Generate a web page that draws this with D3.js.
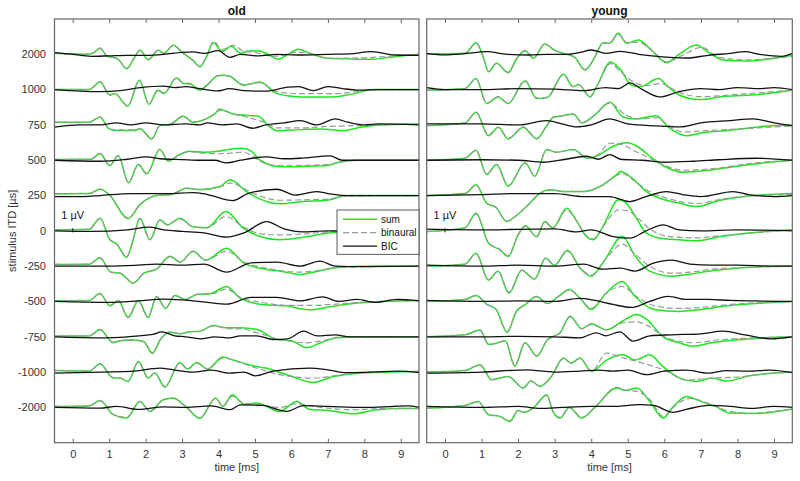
<!DOCTYPE html>
<html><head><meta charset="utf-8">
<script src="https://cdn.jsdelivr.net/npm/d3@7"></script>
<style>body{margin:0;background:#fff}svg{display:block}</style>
</head><body><svg id="c" width="800" height="481"></svg>
<script>
const itdLabels = ["2000","1000","750","500","250","0","-250","-500","-750","-1000","-2000"];
const timeTicks = [0,1,2,3,4,5,6,7,8,9];
const panelTitles = ["old","young"];
const legendLabels = ["sum","binaural","BIC"];

// values: [time ms, amplitude µV], one array per ITD row
const oldSum = [
[[-0.5,0.1],[0.4,0],[0.55,0.1],[0.75,0.6],[0.95,-0.2],[1.1,-0.3],[1.25,-0.5],[1.48,-1.45],[1.65,-0.6],[1.85,0.4],[2.07,-0.55],[2.35,0.4],[2.5,0.1],[2.76,0.9],[3.0,0.2],[3.3,-0.6],[3.49,-1.25],[3.65,-0.4],[3.86,1.15],[4.1,0.3],[4.35,0.8],[4.6,0.1],[4.8,0.3],[5.1,0.35],[5.35,0],[5.64,-0.5],[5.9,0],[6.19,0.5],[6.5,0.1],[7.0,-0.4],[7.5,-0.45],[8.2,-0.5],[8.7,-0.3],[9.2,-0.1],[9.5,0]],
[[-0.5,0],[0.45,0],[0.75,0.77],[1.02,-0.56],[1.15,-0.4],[1.51,-1.66],[1.83,0.94],[2.09,-1.46],[2.34,-0.06],[2.5,-0.4],[2.85,1.17],[3.05,0.6],[3.2,0.6],[3.49,-0.06],[3.7,0.5],[3.95,1.34],[4.1,1.44],[4.31,1.34],[4.68,0.44],[4.9,0.6],[5.14,0.77],[5.6,-0.4],[6.24,-0.73],[7.14,-0.73],[7.6,-0.5],[8.24,0],[9.5,0]],
[[-0.5,0.27],[0.45,0.27],[0.75,0.77],[1.0,-0.4],[1.2,-0.56],[1.66,-0.56],[1.85,-0.4],[2.17,-1.4],[2.39,-0.07],[2.7,0.1],[3.03,0.87],[3.3,0.27],[3.5,0.4],[3.86,1.0],[4.04,1.53],[4.4,1.1],[4.86,0.93],[5.1,0.87],[5.32,0.1],[5.6,-0.57],[6.25,-0.47],[6.8,-0.4],[7.42,-0.57],[7.9,-0.23],[8.4,0],[9.5,0.1]],
[[-0.5,0.07],[0.5,0.1],[0.75,0.67],[1.02,-0.53],[1.25,0.47],[1.53,-2.26],[1.8,-0.43],[2.03,-1.36],[2.39,1.07],[2.62,-0.1],[2.9,0.5],[3.2,0.9],[3.6,0.8],[4.0,0.9],[4.3,1.1],[4.65,1.2],[4.9,0.9],[5.14,0],[5.7,-0.66],[6.4,-0.6],[6.97,-0.53],[7.33,-0.17],[7.8,0],[9.5,0]],
[[-0.5,0.17],[0.45,0.2],[0.75,0.63],[1.0,0.1],[1.52,-2.3],[1.84,-0.93],[2.3,0],[2.7,0.1],[3.13,0.73],[3.5,0.6],[4.04,0.9],[4.32,1.57],[4.77,0.4],[5.0,-0.1],[5.7,-0.83],[6.3,-0.6],[6.97,-0.47],[7.52,0],[9.5,0]],
[[-0.5,0.1],[0.45,0.15],[0.75,1.27],[1.02,-0.9],[1.2,-1.3],[1.48,-2.63],[1.65,-1.0],[1.84,1.27],[2.12,-0.9],[2.39,1.1],[2.6,0.6],[2.94,1.27],[3.3,0.4],[3.67,0.3],[4.2,1.93],[4.68,0.27],[5.14,-0.57],[5.68,-0.9],[6.4,-0.6],[6.97,-0.23],[7.5,-0.1],[8,0],[9.5,0]],
[[-0.5,0.17],[0.45,0.2],[0.75,0.84],[1.05,-0.6],[1.3,-0.7],[1.66,-1.7],[1.95,-0.7],[2.3,-0.3],[2.67,1.0],[2.95,0.4],[3.3,1.5],[3.65,0.6],[4.22,1.8],[4.7,0.3],[5.32,-0.33],[5.7,-0.5],[6.24,-0.83],[6.6,-0.6],[7.2,-0.15],[7.9,0],[9.5,0]],
[[-0.5,0.07],[0.45,0.1],[0.75,0.8],[1.02,-0.44],[1.25,0.1],[1.52,-1.6],[1.8,0.07],[2.07,-1.6],[2.3,0.5],[2.55,-0.7],[2.8,0.6],[3.1,0.2],[3.4,0.7],[3.8,0.8],[4.22,1.5],[4.6,0.3],[5.2,-0.3],[5.87,-0.44],[6.2,-0.7],[6.5,-0.84],[7.1,-0.5],[7.8,-0.15],[8.5,0],[9.5,0.1]],
[[-0.5,0.07],[0.45,0.07],[0.75,0.73],[1.11,-0.6],[1.3,-0.4],[1.66,-0.33],[1.95,-0.5],[2.19,-1.67],[2.4,-0.3],[2.67,0.46],[2.95,0.3],[3.2,0.5],[3.49,0.56],[3.86,1.13],[4.2,0.9],[4.59,0.9],[5.05,0.73],[5.6,-0.27],[6.0,-0.4],[6.42,-1.1],[6.8,-0.6],[7.25,-0.1],[7.8,0],[9.5,0]],
[[-0.5,0.17],[0.45,0.1],[0.75,0.83],[1.11,-0.6],[1.3,-0.6],[1.52,-0.94],[1.8,1.06],[2.07,-0.6],[2.25,-0.1],[2.53,-1.5],[2.94,0.96],[3.15,0.3],[3.4,0.96],[3.7,0.3],[4.12,1.5],[4.4,1.2],[4.95,0.63],[5.3,0.4],[5.96,-0.37],[6.6,-1.04],[7.1,-0.5],[7.6,-0.2],[8.2,-0.05],[9.5,0.07]],
[[-0.5,0.1],[0.45,0.15],[0.75,0.7],[1.11,-0.73],[1.48,-1.06],[1.84,0.6],[2.12,-0.4],[2.48,0.76],[2.75,0.93],[3.1,0.1],[3.49,-1.1],[3.92,0.94],[4.12,0.1],[4.38,1.27],[4.7,0.3],[5.05,0.43],[5.68,-0.4],[6.14,0.6],[6.5,-0.2],[7.0,-0.3],[7.7,-0.63],[8.3,-0.25],[9,-0.1],[9.5,-0.1]]
];
const oldBin = [
[[-0.5,0.1],[0.4,0],[0.55,0.1],[0.75,0.62],[0.95,-0.2],[1.1,-0.3],[1.25,-0.5],[1.48,-1.4],[1.65,-0.6],[1.85,0.42],[2.07,-0.5],[2.35,0.4],[2.5,0.1],[2.76,0.9],[3.0,0.2],[3.3,-0.6],[3.49,-1.2],[3.65,-0.4],[3.86,1.3],[4.1,0.5],[4.4,0.9],[4.7,0.3],[5.0,0.2],[5.5,-0.2],[6.2,0.2],[6.6,0],[7.0,-0.4],[8.0,-0.35],[9.0,-0.1],[9.5,0]],
[[-0.5,0],[0.45,0],[0.75,0.8],[1.02,-0.5],[1.15,-0.4],[1.51,-1.6],[1.83,0.96],[2.09,-1.4],[2.34,0],[2.5,-0.35],[2.85,1.2],[3.05,0.6],[3.2,0.55],[3.49,0],[3.7,0.5],[3.95,1.36],[4.1,1.44],[4.31,1.3],[4.68,0.5],[5.14,0.7],[5.6,-0.2],[6.24,-0.4],[7.14,-0.4],[7.6,-0.3],[8.24,0],[9.5,0]],
[[-0.5,0.27],[0.45,0.27],[0.75,0.8],[1.0,-0.4],[1.2,-0.5],[1.66,-0.5],[1.85,-0.4],[2.17,-1.35],[2.39,-0.05],[2.7,0.1],[3.03,0.9],[3.3,0.3],[3.5,0.4],[3.86,1.05],[4.04,1.6],[4.4,1.1],[4.86,0.7],[5.3,0.2],[5.6,-0.3],[6.25,-0.3],[7.0,-0.15],[7.5,-0.1],[8.4,0],[9.5,0.1]],
[[-0.5,0.07],[0.5,0.1],[0.75,0.7],[1.02,-0.5],[1.25,0.5],[1.53,-2.2],[1.8,-0.4],[2.03,-1.3],[2.39,1.1],[2.62,-0.05],[2.9,0.5],[3.2,0.85],[3.6,0.7],[4.0,0.65],[4.3,0.7],[4.65,0.8],[4.9,0.5],[5.14,-0.1],[5.5,-0.5],[6.4,-0.5],[6.97,-0.43],[7.4,-0.15],[7.8,0],[9.5,0]],
[[-0.5,0.17],[0.45,0.2],[0.75,0.65],[1.0,0.1],[1.52,-2.25],[1.84,-0.9],[2.3,0],[2.7,0.1],[3.13,0.75],[3.5,0.6],[4.04,0.85],[4.32,1.24],[4.8,0.5],[5.1,0],[5.7,-0.47],[6.3,-0.43],[7.0,-0.35],[7.52,-0.05],[9.5,0]],
[[-0.5,0.1],[0.45,0.15],[0.75,1.22],[1.02,-0.85],[1.2,-1.25],[1.48,-2.6],[1.65,-1.0],[1.84,1.2],[2.12,-0.85],[2.39,1.05],[2.6,0.6],[2.94,1.2],[3.3,0.4],[3.67,0.3],[4.2,1.43],[4.68,0.4],[5.14,-0.3],[5.68,-0.4],[6.4,-0.3],[6.97,-0.1],[8,0],[9.5,0]],
[[-0.5,0.17],[0.45,0.2],[0.75,0.8],[1.05,-0.6],[1.3,-0.7],[1.66,-1.65],[1.95,-0.7],[2.3,-0.3],[2.67,0.95],[2.95,0.4],[3.3,1.45],[3.65,0.6],[4.22,1.5],[4.7,0.4],[5.32,-0.2],[6.24,-0.6],[6.8,-0.4],[7.3,-0.1],[9.5,0]],
[[-0.5,0.07],[0.45,0.1],[0.75,0.78],[1.02,-0.4],[1.25,0.1],[1.52,-1.55],[1.8,0.1],[2.07,-1.55],[2.3,0.5],[2.55,-0.65],[2.8,0.6],[3.1,0.2],[3.4,0.7],[3.8,0.75],[4.22,1.23],[4.6,0.4],[5.2,-0.1],[6.0,-0.4],[6.5,-0.4],[7.1,-0.3],[7.8,-0.1],[9.5,0.1]],
[[-0.5,0.07],[0.45,0.07],[0.75,0.7],[1.11,-0.55],[1.3,-0.4],[1.66,-0.3],[1.95,-0.5],[2.19,-1.6],[2.4,-0.3],[2.67,0.5],[2.95,0.3],[3.2,0.5],[3.49,0.56],[3.86,1.1],[4.3,0.8],[4.59,0.8],[5.05,0.4],[5.6,-0.2],[6.42,-0.6],[6.9,-0.35],[7.4,0],[9.5,0]],
[[-0.5,0.17],[0.45,0.1],[0.75,0.8],[1.11,-0.55],[1.3,-0.6],[1.52,-0.9],[1.8,1.0],[2.07,-0.55],[2.25,-0.1],[2.53,-1.45],[2.94,0.9],[3.15,0.3],[3.4,0.9],[3.7,0.3],[4.12,1.4],[4.95,0.5],[5.6,-0.2],[6.6,-0.6],[7.3,-0.3],[8,0],[9.5,0.07]],
[[-0.5,0.1],[0.45,0.15],[0.75,0.68],[1.11,-0.7],[1.48,-1.0],[1.84,0.6],[2.12,-0.4],[2.48,0.75],[2.75,0.9],[3.1,0.1],[3.49,-1.05],[3.92,0.9],[4.12,0.15],[4.38,1.1],[4.7,0.4],[5.05,0.3],[5.68,0.0],[6.14,0.35],[6.6,0.1],[7.7,-0.23],[8.5,-0.1],[9.5,-0.1]]
];
const oldBic = [
[[-0.5,0.16],[0,0],[0.5,-0.2],[1.0,-0.15],[1.5,-0.1],[2.0,-0.1],[2.5,0],[3.0,0.2],[3.3,0.25],[3.6,0.1],[3.99,0.36],[4.31,-0.3],[4.6,0],[5.1,-0.16],[5.6,0],[6.2,-0.07],[7.0,0],[7.6,0.05],[8.2,0.26],[8.85,-0.07],[9.5,-0.1]],
[[-0.5,0],[0.75,-0.2],[1.3,-0.1],[1.85,0.2],[2.5,0.35],[2.8,0.2],[3.1,0.3],[3.49,0.1],[3.97,-0.13],[4.3,0.1],[4.7,-0.1],[5.3,-0.16],[5.9,0.24],[6.2,0.3],[6.6,-0.1],[7.0,0.3],[7.4,0.1],[7.9,-0.06],[8.4,0],[9.5,0]],
[[-0.5,-0.23],[0.2,0],[0.75,0],[1.2,0.2],[1.6,0],[2.0,0.2],[2.5,0],[3.1,0.1],[3.49,0],[3.7,0.2],[4.1,0],[4.5,0.1],[4.94,-0.33],[5.3,0],[5.8,0.2],[6.24,0.43],[6.7,0],[7.2,0.6],[7.55,0.27],[8.0,0],[8.4,0.1],[9.5,0]],
[[-0.5,0],[0.75,-0.1],[1.5,0.1],[2.03,0.33],[2.4,0.15],[3.0,0.07],[3.49,0],[3.9,0],[4.22,-0.27],[4.6,0],[5.32,0.33],[5.8,0.15],[6.24,0.2],[7.06,0.43],[7.4,0],[7.8,0],[9.5,0]],
[[-0.5,-0.1],[0.3,-0.1],[0.75,0],[1.6,0.2],[2.6,0.2],[3.3,0.3],[3.7,0.1],[4.4,-0.5],[4.8,0.2],[5.6,0.63],[6.1,0.05],[6.69,0.4],[7.0,0.2],[7.5,0],[9.5,0]],
[[-0.5,0],[0.5,-0.05],[1.5,0.1],[2.1,0.37],[2.5,0.1],[3.0,-0.05],[3.6,-0.2],[4.22,-0.63],[4.7,-0.2],[5.32,0.93],[5.8,0.2],[6.3,-0.1],[7,0],[9.5,0]],
[[-0.5,0],[1.0,0],[1.8,0.1],[2.3,0.2],[3.0,0.1],[3.6,0.2],[4.22,-0.6],[4.9,0.33],[5.6,0.4],[6.24,0],[6.78,0.5],[7.2,0],[8,-0.05],[9.5,0]],
[[-0.5,0],[1.0,-0.1],[1.8,0.05],[2.5,0.23],[3.0,0.15],[3.7,-0.1],[4.22,-0.27],[4.9,0.4],[5.6,0.4],[6.24,0.05],[6.85,0.45],[7.3,0],[7.8,0.2],[8.3,-0.1],[8.9,0.2],[9.5,0.05]],
[[-0.5,0],[0.8,-0.1],[1.5,0],[2.2,0.23],[2.44,0.5],[2.8,0.1],[3.1,0],[3.5,-0.2],[3.9,0],[4.3,-0.1],[4.6,0.1],[5.05,0.1],[5.5,-0.27],[5.9,-0.2],[6.33,0.56],[6.7,0.1],[7.2,0.2],[7.6,0],[9.5,0]],
[[-0.5,-0.1],[0.8,0],[1.7,0.1],[2.39,0.4],[2.8,0.2],[3.3,0],[3.8,0.2],[4.3,-0.1],[4.7,0],[5.0,-0.37],[5.5,0.1],[6.5,0.4],[7.0,0.23],[7.5,-0.05],[8.2,0],[8.9,0.1],[9.5,-0.05]],
[[-0.5,0],[0.75,-0.07],[1.2,0.1],[1.8,-0.2],[2.5,0.05],[3.1,0],[3.8,0.15],[4.32,-0.23],[4.6,0.25],[5.2,0.2],[5.87,-0.4],[6.33,0.17],[7.0,0.1],[8,0],[8.8,0.1],[9.2,0.15],[9.5,0]]
];
const youngSum = [
[[-0.5,0],[0.55,0.1],[0.85,1.16],[1.05,-0.3],[1.19,-1.74],[1.41,-0.9],[1.73,-1.84],[1.95,-0.5],[2.19,0.36],[2.42,-0.4],[2.73,1.03],[3.0,0.4],[3.33,0],[3.55,-0.3],[3.83,-1.57],[4.05,-0.6],[4.33,1.16],[4.5,1.1],[4.74,2.1],[4.97,1.1],[5.29,1.43],[5.6,0.6],[6.06,-0.84],[6.4,0],[6.88,0.93],[7.2,0.2],[7.61,-0.57],[8.25,-0.67],[8.8,-0.5],[9.5,-0.1]],
[[-0.5,-0.07],[0.55,0.1],[0.85,1.1],[1.14,-1.4],[1.45,-0.73],[1.73,-1.4],[2.19,0.87],[2.51,-0.9],[2.8,-0.8],[3.24,1.54],[3.5,0.3],[3.65,0.5],[3.97,-0.73],[4.15,0.3],[4.53,2.77],[4.8,2.0],[5.1,0.44],[5.35,0.3],[5.83,1.1],[6.1,0.3],[6.42,-0.56],[6.97,-0.99],[7.6,-0.7],[8.25,-0.57],[8.8,-0.4],[9.5,-0.07]],
[[-0.5,-0.07],[0.55,0.2],[0.85,1.27],[1.19,-1.07],[1.46,-0.23],[1.73,-1.4],[2.14,-0.23],[2.51,-1.4],[2.78,-0.1],[2.96,0.77],[3.2,0.9],[3.51,1.1],[3.75,0.2],[4.1,1.0],[4.51,2.27],[4.88,0.77],[5.2,0.6],[5.78,0.93],[6.1,-0.2],[6.6,-1.07],[7.0,-0.8],[7.6,-0.6],[8.1,-0.4],[8.8,-0.1],[9.5,0]],
[[-0.5,0],[0.55,0.2],[0.85,1.0],[1.14,-1.43],[1.41,-0.43],[1.73,-2.6],[2.19,-0.26],[2.46,-1.6],[2.78,1.07],[3.05,0.8],[3.51,1.07],[3.9,0.2],[4.2,0.5],[4.6,1.4],[4.97,1.74],[5.3,1.3],[5.6,0.4],[6.0,-0.6],[6.52,-1.2],[7.2,-1.0],[7.8,-0.7],[8.4,-0.4],[9.5,0]],
[[-0.5,0],[0.55,0.2],[0.85,1.07],[1.14,-0.77],[1.4,-1.2],[1.69,-2.6],[1.95,-2.0],[2.23,-1.1],[2.6,0.23],[2.87,0.57],[3.3,0.4],[3.8,0.4],[4.24,0.9],[4.69,2.07],[4.8,2.4],[5.1,1.8],[5.51,0.4],[5.9,-0.3],[6.42,-0.77],[6.88,-1.1],[7.5,-0.5],[8.2,-0.1],[9.5,0.2]],
[[-0.5,-0.07],[0.55,0.3],[0.85,1.77],[1.19,-1.23],[1.5,-1.9],[1.73,-2.57],[2.0,-0.4],[2.2,0.5],[2.51,-0.6],[2.73,0.93],[2.95,0.3],[3.33,2.27],[3.6,1.0],[3.85,-0.5],[4.06,-0.9],[4.3,0.3],[4.75,3.1],[4.95,2.8],[5.2,1.5],[5.51,-0.23],[6.0,-0.8],[6.42,-0.9],[6.9,-1.0],[7.5,-0.6],[8.1,-0.3],[9.5,0.1]],
[[-0.5,0],[0.55,0.2],[0.85,1.3],[1.19,-1.4],[1.45,-0.5],[1.75,-2.7],[2.1,-0.4],[2.45,-1.3],[2.75,0.8],[3.0,0.1],[3.35,1.6],[3.7,-0.2],[4.0,-1.0],[4.35,0.5],[4.85,3.0],[5.2,1.0],[5.6,-0.5],[6.2,-1.0],[6.7,-0.8],[7.2,-0.5],[8,-0.2],[9,0],[9.5,0]],
[[-0.5,0],[0.55,0.2],[0.85,0.6],[1.15,-0.3],[1.4,-0.8],[1.7,-3.1],[1.95,-1.0],[2.2,-0.3],[2.5,0.5],[2.8,-0.2],[3.1,0.5],[3.4,1.2],[3.7,0.3],[4.0,-0.8],[4.4,0.8],[4.85,2.0],[5.2,0.5],[5.7,-0.77],[6.4,-1.0],[7.0,-0.8],[7.8,-0.4],[8.5,-0.2],[9.5,0]],
[[-0.5,0],[0.55,0.2],[0.96,0.67],[1.19,-0.77],[1.45,-0.6],[1.65,-0.4],[1.91,-2.94],[2.19,-0.6],[2.51,-1.94],[2.8,-0.3],[3.15,0.4],[3.42,2.06],[3.74,0.8],[4.0,1.3],[4.42,0.7],[4.87,1.6],[5.24,2.23],[5.5,1.8],[5.97,0],[6.4,-0.6],[6.79,-0.94],[7.3,-0.6],[8.0,-0.3],[8.8,-0.1],[9.5,0]],
[[-0.5,0],[0.55,0.15],[0.96,0.73],[1.28,-0.77],[1.5,-0.6],[1.73,-0.43],[2.14,-1.6],[2.35,-0.9],[2.6,-1.43],[2.9,-0.5],[3.24,1.4],[3.45,0.9],[3.69,1.4],[4.01,0.07],[4.42,1.2],[4.87,1.73],[5.2,1.2],[5.6,1.73],[5.95,0.6],[6.42,-0.6],[6.88,-0.94],[7.3,-0.6],[7.7,-0.9],[8.3,-0.4],[9.0,-0.1],[9.5,0]],
[[-0.5,-0.07],[0.55,0.2],[0.91,0.6],[1.19,-0.73],[1.5,-0.9],[1.78,-1.4],[2.0,-0.3],[2.15,-0.5],[2.46,0.1],[2.78,1.27],[2.95,-0.4],[3.15,-1.07],[3.4,0],[3.74,-1.06],[4.1,0.0],[4.69,1.94],[4.95,1.7],[5.24,1.94],[5.6,0.6],[5.97,-1.06],[6.25,0.1],[6.6,1.1],[7.0,0.6],[7.4,0.1],[7.79,-0.57],[8.4,-0.6],[8.9,-0.5],[9.5,-0.17]]
];
const youngBin = [
[[-0.5,0],[0.55,0.1],[0.85,1.1],[1.05,-0.3],[1.19,-1.7],[1.41,-0.9],[1.73,-1.8],[1.95,-0.5],[2.19,0.4],[2.42,-0.35],[2.73,1.05],[3.0,0.4],[3.33,0],[3.55,-0.3],[3.83,-1.5],[4.05,-0.6],[4.33,1.1],[4.5,1.1],[4.74,2.0],[4.97,1.2],[5.3,1.2],[5.65,0.4],[6.06,-0.75],[6.5,-0.1],[7.02,0.7],[7.5,-0.3],[8.25,-0.55],[9.5,-0.2]],
[[-0.5,-0.07],[0.55,0.1],[0.85,1.1],[1.14,-1.35],[1.45,-0.7],[1.73,-1.35],[2.19,0.9],[2.51,-0.85],[2.8,-0.75],[3.24,1.5],[3.5,0.3],[3.65,0.5],[3.97,-0.7],[4.15,0.3],[4.53,2.6],[4.8,1.8],[5.15,0.8],[5.5,0.4],[5.9,0.6],[6.42,-0.3],[6.97,-0.7],[8.25,-0.4],[9.5,-0.05]],
[[-0.5,-0.07],[0.55,0.2],[0.85,1.25],[1.19,-1.0],[1.46,-0.25],[1.73,-1.35],[2.14,-0.2],[2.51,-1.35],[2.78,-0.1],[2.96,0.75],[3.2,0.9],[3.51,1.05],[3.75,0.2],[4.1,1.0],[4.51,2.2],[4.9,1.1],[5.3,0.6],[5.8,0.7],[6.1,0],[6.5,-0.7],[7.0,-0.6],[8.0,-0.4],[9.5,-0.1]],
[[-0.5,0],[0.55,0.2],[0.85,1.0],[1.14,-1.4],[1.41,-0.45],[1.73,-2.5],[2.19,-0.3],[2.46,-1.55],[2.78,1.05],[3.05,0.8],[3.51,1.05],[3.9,0.2],[4.2,0.6],[4.5,1.7],[4.8,1.6],[5.2,0.9],[5.6,0.2],[6.0,-0.5],[6.52,-1.0],[7.4,-0.8],[8.4,-0.3],[9.5,0]],
[[-0.5,0],[0.55,0.2],[0.85,1.05],[1.14,-0.75],[1.4,-1.2],[1.69,-2.55],[1.95,-2.0],[2.23,-1.1],[2.6,0.2],[2.87,0.55],[3.3,0.4],[3.8,0.4],[4.24,0.9],[4.69,2.0],[4.85,2.2],[5.2,1.4],[5.6,0.4],[6.2,-0.4],[6.88,-0.8],[7.5,-0.4],[8.3,-0.05],[9.5,0.1]],
[[-0.5,-0.07],[0.55,0.3],[0.85,1.7],[1.19,-1.2],[1.5,-1.85],[1.73,-2.5],[2.0,-0.4],[2.2,0.45],[2.51,-0.55],[2.73,0.9],[2.95,0.3],[3.33,2.1],[3.6,1.0],[3.85,-0.4],[4.06,-0.8],[4.3,0.3],[4.75,2.1],[5.0,2.0],[5.3,1.2],[5.6,0.2],[6.2,-0.6],[6.9,-0.7],[7.5,-0.5],[8.5,-0.2],[9.5,0.1]],
[[-0.5,0],[0.55,0.2],[0.85,1.25],[1.19,-1.35],[1.45,-0.5],[1.75,-2.6],[2.1,-0.4],[2.45,-1.25],[2.75,0.8],[3.0,0.1],[3.35,1.5],[3.7,-0.2],[4.0,-0.9],[4.35,0.5],[4.85,2.2],[5.2,1.2],[5.6,0],[6.2,-0.7],[6.7,-0.6],[7.3,-0.3],[8.5,-0.1],[9.5,0]],
[[-0.5,0],[0.55,0.2],[0.85,0.6],[1.15,-0.3],[1.4,-0.8],[1.7,-3.0],[1.95,-1.0],[2.2,-0.3],[2.5,0.5],[2.8,-0.2],[3.1,0.5],[3.4,1.15],[3.7,0.3],[4.0,-0.7],[4.4,0.8],[4.85,1.5],[5.2,0.6],[5.7,-0.4],[6.4,-0.7],[7.0,-0.6],[7.8,-0.3],[9.5,0]],
[[-0.5,0],[0.55,0.2],[0.96,0.65],[1.19,-0.75],[1.45,-0.6],[1.65,-0.4],[1.91,-2.85],[2.19,-0.6],[2.51,-1.9],[2.8,-0.3],[3.15,0.4],[3.42,2.0],[3.74,0.8],[4.0,1.25],[4.42,0.7],[4.87,1.4],[5.24,1.5],[5.6,1.0],[6.0,0],[6.79,-0.6],[7.5,-0.3],[8.5,-0.1],[9.5,0]],
[[-0.5,0],[0.55,0.15],[0.96,0.7],[1.28,-0.75],[1.5,-0.6],[1.73,-0.45],[2.14,-1.55],[2.35,-0.9],[2.6,-1.4],[2.9,-0.5],[3.24,1.35],[3.45,0.9],[3.69,1.35],[4.01,0.1],[4.42,1.9],[4.8,1.5],[5.4,0.9],[6.0,0.2],[6.6,-0.8],[7.3,-0.6],[8.0,-0.5],[8.7,-0.2],[9.5,0]],
[[-0.5,-0.07],[0.55,0.2],[0.91,0.6],[1.19,-0.7],[1.5,-0.9],[1.78,-1.35],[2.0,-0.3],[2.15,-0.5],[2.46,0.1],[2.78,1.2],[2.95,-0.35],[3.15,-1.0],[3.4,0],[3.74,-1.0],[4.1,0.0],[4.69,2.0],[4.95,1.7],[5.24,1.6],[5.6,0.8],[5.97,-0.9],[6.3,0.2],[6.7,0.9],[7.2,0.4],[7.79,-0.4],[8.4,-0.6],[9.0,-0.4],[9.5,-0.15]]
];
const youngBic = [
[[-0.5,0.1],[0,-0.05],[0.5,0.05],[1.14,0.26],[1.7,0],[2.3,-0.07],[2.8,0],[3.3,0],[3.7,0.2],[4.0,0.43],[4.4,0.1],[4.8,0.3],[5.3,0],[5.8,-0.2],[6.6,-0.37],[7.2,-0.1],[7.8,0.1],[8.2,0.26],[8.6,0],[9.2,-0.2],[9.5,0.1]],
[[-0.5,0.2],[0,0],[1,0],[2,0.1],[3,0.05],[3.8,-0.1],[4.4,0.2],[4.75,0.1],[5.06,0.67],[5.4,0],[5.88,-0.73],[6.4,-0.2],[7.0,0.1],[7.5,0],[8.0,0.2],[8.6,0.1],[9.0,0.2],[9.5,0]],
[[-0.5,0.1],[1,0.1],[2,0],[2.78,0.43],[3.2,0.1],[3.6,-0.2],[4.0,0],[4.51,0.6],[5.0,0.1],[5.78,-0.1],[6.4,-0.2],[7.0,0.2],[7.79,0.43],[8.43,0.6],[9.0,0.2],[9.5,-0.1]],
[[-0.5,0],[1,0.05],[2,0],[2.7,-0.2],[3.3,0.1],[3.87,0.4],[4.2,0.1],[4.51,0.57],[4.8,0.1],[5.4,0],[6.0,-0.2],[6.8,-0.1],[7.5,0.05],[8.5,0.2],[9.5,0]],
[[-0.5,0],[1,0.1],[2,0.2],[3,0.2],[3.8,-0.1],[4.5,-0.1],[5.06,-0.6],[5.5,-0.1],[6.06,0.4],[6.5,0.1],[7.0,-0.1],[7.88,0.4],[8.3,0.1],[9.0,-0.1],[9.5,0]],
[[-0.5,0.17],[1,0.1],[2,0.15],[3,0.2],[3.6,-0.1],[4.0,0.1],[4.6,-0.57],[5.06,-0.73],[5.5,0],[5.97,0.6],[6.4,0.1],[7,0],[8,0.1],[9,0.05],[9.5,0]],
[[-0.5,0.1],[1,0],[2,0.1],[3,0],[3.8,0.2],[4.3,-0.3],[4.8,-0.2],[5.2,-0.5],[5.7,0.3],[6.2,0.6],[6.7,0.2],[7.3,0.1],[8,0.1],[9,0],[9.5,0]],
[[-0.5,0.1],[1,0],[2,0.05],[3,0],[3.7,0.3],[4.1,0.1],[4.6,-0.3],[5.1,-0.6],[5.6,0],[6.1,0.5],[6.6,0.2],[7.2,0.2],[7.8,0.1],[8.5,0.05],[9.5,0]],
[[-0.5,0],[1,0],[2,0.05],[3,0],[3.7,-0.1],[4.14,0.4],[4.4,0.1],[4.78,0.5],[5.15,-0.43],[5.6,0.1],[6.2,0.2],[7.0,0.3],[7.61,0.56],[8.2,0.2],[8.9,-0.2],[9.5,0]],
[[-0.5,-0.1],[1,0],[2.23,0.23],[3,0],[3.69,0.1],[4.2,0.2],[4.6,0.1],[5.0,0.2],[5.51,-0.26],[6.0,0.1],[6.6,0.2],[7.2,-0.1],[7.7,0.15],[8.3,0.1],[8.9,0.2],[9.5,-0.05]],
[[-0.5,0.1],[1,0],[2,0.1],[2.6,-0.1],[3.2,0],[4.0,0.1],[4.6,0.1],[5.33,0.27],[5.7,0.2],[6.24,-0.5],[6.6,-0.2],[7.2,0.2],[7.8,0.1],[8.4,-0.1],[9.0,0.1],[9.5,0]]
];

const svg = d3.select("#c");
const FONT = "'Liberation Sans', Arial, sans-serif";
const TXT = "#333", AX = "#666";
const plotTop = 19, plotBottom = 442.7;
const panels = [
  {x0: 54.5, x1: 419, title: panelTitles[0], series: [oldSum, oldBin, oldBic]},
  {x0: 426.7, x1: 792.3, title: panelTitles[1], series: [youngSum, youngBin, youngBic]}
];
const rowScale = d3.scaleLinear().domain([-1, itdLabels.length]).range([plotTop, plotBottom]);
const amp = d3.scaleLinear().domain([0, 1]).range([0, -10]); // px per µV
const styles = [
  {stroke: "#1ee61e", width: 1.5, dash: null},
  {stroke: "#9a9a9a", width: 1.2, dash: "6,3"},
  {stroke: "#111", width: 1.3, dash: null}
];

panels.forEach((p, pi) => {
  const x = d3.scaleLinear().domain([-0.5, 9.5]).range([p.x0, p.x1]);
  const g = svg.append("g");
  const cid = "clip" + pi;
  svg.append("clipPath").attr("id", cid).append("rect")
    .attr("x", p.x0).attr("y", plotTop).attr("width", p.x1 - p.x0).attr("height", plotBottom - plotTop);
  const lines = g.append("g").attr("clip-path", `url(#${cid})`);
  const line = rowIdx => d3.line()
    .x(d => x(d[0]))
    .y(d => rowScale(rowIdx) + amp(d[1]))
    .curve(d3.curveMonotoneX);
  p.series.forEach((ser, si) => {
    ser.forEach((rowData, ri) => {
      lines.append("path").attr("d", line(ri)(rowData))
        .attr("fill", "none").attr("stroke", styles[si].stroke)
        .attr("stroke-width", styles[si].width)
        .attr("stroke-dasharray", styles[si].dash)
        .attr("stroke-linejoin", "round");
    });
  });
  const xb = d3.axisBottom(x).tickValues(timeTicks).tickSize(-4).tickPadding(8).tickFormat(d3.format("d"));
  const gb = g.append("g").attr("transform", `translate(0,${plotBottom})`).call(xb);
  const xt = d3.axisTop(x).tickValues(timeTicks).tickSize(-4).tickFormat("");
  const gt = g.append("g").attr("transform", `translate(0,${plotTop})`).call(xt);
  [gb, gt].forEach(a => {
    a.select(".domain").remove();
    a.selectAll(".tick line").attr("stroke", AX);
    a.selectAll(".tick text").attr("fill", TXT).style("font-family", FONT).style("font-size", "11px");
  });
  g.append("rect").attr("x", p.x0).attr("y", plotTop).attr("width", p.x1 - p.x0).attr("height", plotBottom - plotTop)
    .attr("fill", "none").attr("stroke", AX).attr("stroke-width", 1.2);
  g.append("text").attr("x", (p.x0 + p.x1) / 2).attr("y", 14.5).attr("text-anchor", "middle")
    .style("font-family", FONT).style("font-size", "12px").style("font-weight", "bold").attr("fill", "#111").text(p.title);
  g.append("text").attr("x", (p.x0 + p.x1) / 2).attr("y", 471).attr("text-anchor", "middle")
    .style("font-family", FONT).style("font-size", "11px").attr("fill", TXT).text("time [ms]");
  const zi = itdLabels.indexOf("0");
  g.append("text").attr("x", x(0)).attr("y", rowScale(zi) - 12).attr("text-anchor", "middle")
    .style("font-family", FONT).style("font-size", "11px").attr("fill", "#111").text("1 µV");
  g.append("line").attr("x1", x(0)).attr("x2", x(0))
    .attr("y1", rowScale(zi) + amp(0.25)).attr("y2", rowScale(zi) + amp(-0.15))
    .attr("stroke", "#111").attr("stroke-width", 1);
});

const gy = svg.append("g");
itdLabels.forEach((lab, i) => {
  gy.append("text").attr("x", 46).attr("y", rowScale(i)).attr("dy", "0.35em").attr("text-anchor", "end")
    .style("font-family", FONT).style("font-size", "11px").attr("fill", TXT).text(lab);
});
svg.append("text").attr("transform", `translate(15.5,${(plotTop + plotBottom) / 2}) rotate(-90)`)
  .attr("text-anchor", "middle").style("font-family", FONT).style("font-size", "11px").attr("fill", TXT)
  .text("stimulus ITD [µs]");

const lg = svg.append("g");
const lx0 = 337, ly0 = 210, lw = 82, lh = 44.3;
lg.append("rect").attr("x", lx0).attr("y", ly0).attr("width", lw).attr("height", lh)
  .attr("fill", "#fff").attr("stroke", "#333").attr("stroke-width", 0.8);
legendLabels.forEach((lab, i) => {
  const yy = ly0 + 9.3 + i * 13.4;
  lg.append("line").attr("x1", lx0 + 6).attr("x2", lx0 + 40).attr("y1", yy).attr("y2", yy)
    .attr("stroke", styles[i].stroke).attr("stroke-width", styles[i].width).attr("stroke-dasharray", styles[i].dash);
  lg.append("text").attr("x", lx0 + 44).attr("y", yy).attr("dy", "0.35em")
    .style("font-family", FONT).style("font-size", "10px").attr("fill", "#111").text(lab);
});
</script></body></html>
